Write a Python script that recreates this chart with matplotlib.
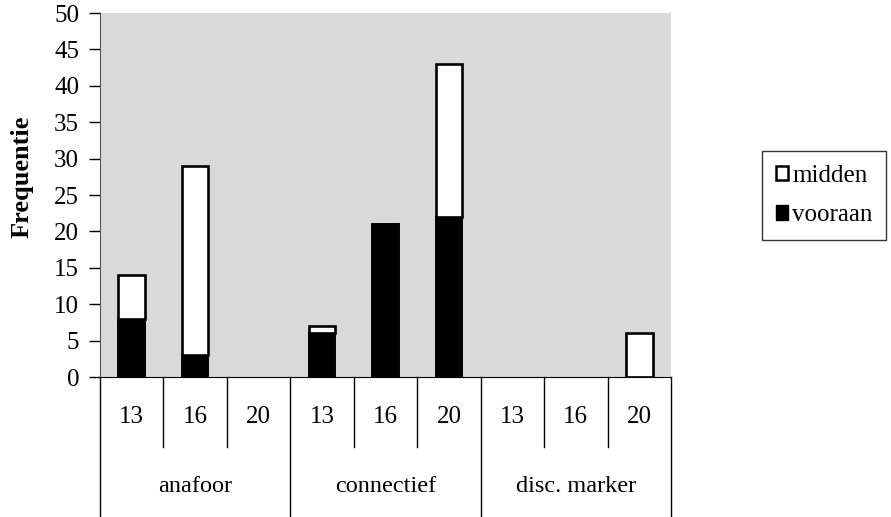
import numpy as np
import matplotlib.pyplot as plt
from matplotlib.patches import Patch
import matplotlib.transforms as mtransforms

plt.rcParams['font.family'] = ['Liberation Serif', 'DejaVu Serif']

groups = ['anafoor', 'connectief', 'disc. marker']
ages = ['13', '16', '20']
vooraan = [8, 3, 0, 6, 21, 22, 0, 0, 0]
midden = [6, 26, 0, 1, 0, 21, 0, 0, 6]

W, H = 891, 517
fig = plt.figure(figsize=(W / 100, H / 100), dpi=100)
ax = fig.add_axes([100 / W, (H - 377) / H, 571 / W, 364 / H])
ax.set_facecolor('#d9d9d9')

x = np.arange(len(vooraan))
bw = 0.42
ax.bar(x, vooraan, bw, color='black', edgecolor='black', linewidth=1.4,
       label='vooraan')
ax.bar(x, midden, bw, bottom=vooraan, color='white', edgecolor='black',
       linewidth=1.9, label='midden')
# the empty slots should not show a line at zero
for p in ax.patches:
    if p.get_height() == 0:
        p.set_visible(False)

ax.set_xlim(-0.5, len(x) - 0.5)
ax.set_ylim(0, 50)
ax.set_yticks(range(0, 51, 5))
ax.tick_params(axis='y', direction='out', length=8, width=1, labelsize=18,
               pad=7, colors='black')
ax.set_xticks([])
for s in ['top', 'right']:
    ax.spines[s].set_visible(False)
ax.spines['left'].set_color('#555555')
ax.spines['bottom'].set_color('black')
fig.text(22 / W, 1 - 177 / H, 'Frequentie', rotation=90, ha='center',
         va='center', fontsize=19, fontweight='bold')

# two-level category axis
tr = mtransforms.blended_transform_factory(ax.transData, ax.transAxes)
y_inner = -70 / 364
y_outer = -140 / 364
for i in range(len(x) + 1):
    xe = i - 0.5
    bottom = y_outer if i % 3 == 0 else y_inner
    ax.plot([xe, xe], [0, bottom], color='black', lw=1, transform=tr,
            clip_on=False)
for i in range(len(x)):
    ax.text(i, -40 / 364, ages[i % 3], transform=tr, ha='center',
            va='center', fontsize=18)
for g, name in enumerate(groups):
    ax.text(g * 3 + 1, -109 / 364, name, transform=tr, ha='center',
            va='center', fontsize=17.5)

h = [Patch(facecolor='white', edgecolor='black', linewidth=1.8),
     Patch(facecolor='black', edgecolor='black')]
leg = fig.legend(h, ['midden', 'vooraan'], loc='upper left',
                 bbox_to_anchor=(762 / W, 1 - 151 / H), fontsize=18,
                 frameon=True, fancybox=False, handlelength=0.5,
                 handleheight=0.5, handletextpad=0.15, borderpad=0.55,
                 labelspacing=0.7, borderaxespad=0)
leg.get_frame().set_edgecolor('black')
leg.get_frame().set_linewidth(1)

fig.savefig('out.png', dpi=100)
